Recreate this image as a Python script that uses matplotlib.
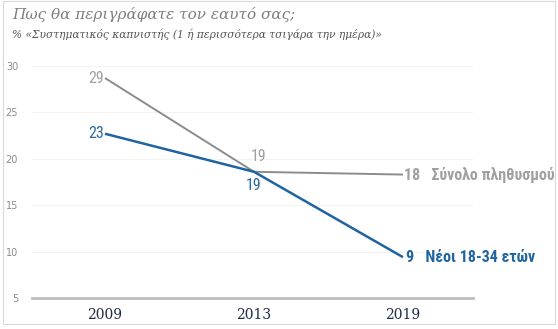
import matplotlib.pyplot as plt
from matplotlib.patches import Rectangle

years = ['2009', '2013', '2019']
total = [28.7, 18.6, 18.3]
young = [22.7, 18.6, 9.4]
total_name = 'Σύνολο πληθυσμού'
young_name = 'Νέοι 18-34 ετών'
title = 'Πως θα περιγράφατε τον εαυτό σας;'
subtitle = '% «Συστηματικός καπνιστής (1 ή περισσότερα τσιγάρα την ημέρα)»'

grey = '#8c8c8c'
grey_txt = '#a0a0a0'
blue = '#1f64a0'
narrow = ['Roboto Condensed', 'Barlow Semi Condensed', 'Liberation Sans']

fig = plt.figure(figsize=(5.58, 3.29), dpi=100)
ax = fig.add_axes([32 / 558, 31 / 329, 441 / 558, 232 / 329])

x = list(range(len(years)))
ax.plot(x, total, color=grey, lw=1.4, solid_capstyle='butt')
ax.plot(x, young, color=blue, lw=1.8, solid_capstyle='butt')

ax.set_xlim(-0.49, 2.47)
ax.set_ylim(5, 30)
ax.set_yticks([5, 10, 15, 20, 25, 30])
ax.set_xticks(x)
ax.set_xticklabels(years, family='DejaVu Serif', fontsize=10, color='#1f2a44')
ax.tick_params(axis='y', length=0, pad=10, labelsize=7, labelcolor='#8a8a8a')
ax.tick_params(axis='x', length=0, pad=7)
ax.grid(axis='y', color='#f3f3f3', lw=0.8)
ax.set_axisbelow(True)
for s in ['top', 'right', 'left']:
    ax.spines[s].set_visible(False)
ax.spines['bottom'].set_color('#bdbdbd')
ax.spines['bottom'].set_linewidth(2)

# value labels
ax.text(x[0] - 0.01, total[0], f'{total[0]:.0f}', ha='right', va='center',
        fontsize=11.5, color=grey_txt, family=narrow)
ax.text(x[0] - 0.01, young[0], f'{young[0]:.0f}', ha='right', va='center',
        fontsize=11.5, color='#2a6a9e', family=narrow)
ax.text(x[1] + 0.03, total[1] + 0.8, f'{total[1]:.0f}', ha='center', va='bottom',
        fontsize=11.5, color=grey_txt, family=narrow)
ax.text(x[1], young[1] - 0.7, f'{young[1]:.0f}', ha='center', va='top',
        fontsize=11.5, color='#2a6a9e', family=narrow)

# end labels
ax.text(x[2] + 0.005, total[2], f'{total[2]:.0f}   {total_name}', ha='left',
        va='center', fontsize=11.5, fontweight='bold', color=grey_txt,
        family=narrow, clip_on=False)
ax.text(x[2] + 0.02, young[2], f'{young[2]:.0f}   {young_name}', ha='left',
        va='center', fontsize=11.5, fontweight='bold', color=blue,
        family=narrow, clip_on=False)

fig.text(12 / 558, 1 - 14 / 329, title, family='DejaVu Serif', style='italic',
         fontsize=11, color='#7f7f7f', va='center')
fig.text(12 / 558, 1 - 34 / 329, subtitle, family='DejaVu Serif', style='italic',
         fontsize=7.7, color='#555555', va='center')

fig.patches.append(Rectangle((3 / 558, 5 / 329), 552 / 558, 323 / 329,
                             transform=fig.transFigure, fill=False,
                             edgecolor='#d9d9d9', lw=0.8))

fig.savefig('out.png', dpi=100)
